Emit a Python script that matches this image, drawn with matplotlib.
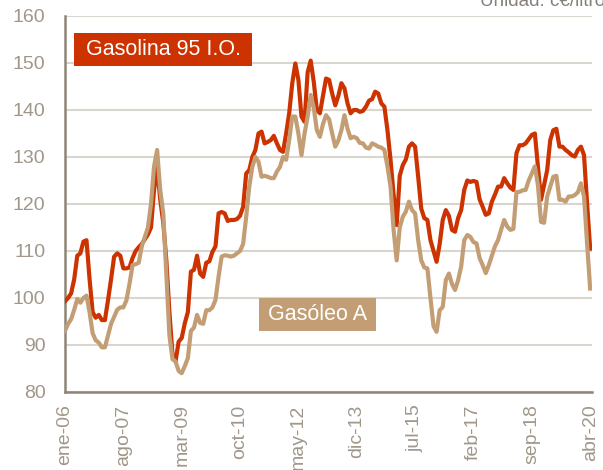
import matplotlib
matplotlib.use("Agg")
import matplotlib.pyplot as plt
from matplotlib.patches import Rectangle
import numpy as np

plt.rcParams['font.family'] = ['Liberation Sans', 'DejaVu Sans']

# Monthly prices (c€/litro), enero 2006 - abril 2020
gasolina = [
    99.3, 100.0, 101.0, 104.0, 109.0, 109.5, 112.0, 112.3, 104.0, 97.0, 95.8, 96.4,
    95.3, 95.3, 99.5, 104.0, 108.8, 109.5, 109.0, 106.3, 106.3, 106.5, 108.5, 110.0,
    110.8, 111.5, 112.5, 113.5, 115.0, 123.0, 128.0, 121.0, 116.0, 108.0, 97.0, 88.0,
    86.5, 90.7, 91.5, 94.6, 97.0, 105.6, 106.0, 109.0, 105.2, 104.5, 107.5, 107.8,
    109.8, 111.0, 118.0, 118.3, 118.0, 116.4, 116.6, 116.6, 116.8, 117.5, 119.4, 126.5,
    127.2, 130.0, 131.5, 135.0, 135.4, 132.9, 133.2, 133.6, 134.5, 132.9, 131.5, 131.1,
    135.0, 139.3, 145.7, 149.9, 146.4, 138.6, 137.5, 148.0, 150.5, 146.0, 140.0, 139.3,
    143.0, 146.7, 146.4, 143.5, 141.0, 143.0, 145.7, 144.6, 141.4, 139.3, 140.0, 140.0,
    139.6, 139.8, 140.7, 142.0, 142.3, 143.9, 143.5, 141.4, 140.7, 135.7, 129.4, 122.0,
    115.5, 126.0, 128.3, 129.5, 132.2, 132.9, 132.2, 125.8, 119.0, 117.0, 116.6, 112.3,
    110.0, 107.7, 111.5, 116.6, 118.7, 117.5, 114.5, 114.1, 117.0, 118.7, 123.0, 125.0,
    124.7, 124.9, 124.7, 121.0, 119.4, 117.7, 118.0, 120.5, 122.0, 123.7, 123.7, 125.5,
    124.4, 123.5, 123.0, 130.8, 132.5, 132.5, 132.9, 133.8, 134.7, 135.0, 127.9, 120.9,
    124.0, 127.2, 133.6, 135.7, 136.0, 132.2, 132.2, 131.5, 131.0, 130.4, 130.1, 131.5,
    132.2, 130.4, 120.1, 110.5,
]

gasoleo = [
    93.0, 94.5, 95.5, 97.5, 99.8, 99.0, 100.0, 100.5, 97.0, 92.5, 91.0, 90.5,
    89.5, 89.5, 92.0, 94.5, 96.0, 97.5, 98.0, 98.0, 99.5, 103.0, 107.0, 107.2,
    107.5, 111.0, 113.0, 115.0, 120.0, 128.0, 131.5, 123.0, 118.0, 105.0, 92.0, 87.0,
    86.5, 84.5, 84.0, 85.5, 87.2, 93.0, 93.7, 96.4, 94.7, 94.5, 97.4, 97.4,
    98.0, 99.6, 104.5, 108.8, 109.1, 109.0, 108.8, 109.0, 109.5, 110.0, 111.5, 117.3,
    123.7, 127.9, 130.0, 129.0, 125.8, 126.0, 125.8, 125.5, 125.5, 126.9, 127.9, 130.0,
    129.4, 133.6, 138.6, 138.6, 135.0, 130.4, 135.0, 138.6, 143.2, 140.5, 135.7, 134.3,
    137.0, 138.9, 138.0, 135.0, 132.2, 133.5, 135.7, 138.9, 136.0, 134.0, 134.3, 134.0,
    133.0, 132.9, 132.0, 131.8, 132.9, 132.6, 132.2, 132.0, 131.5, 128.0, 123.7, 114.5,
    108.0, 115.0, 117.3, 118.4, 120.5, 118.7, 118.0, 112.3, 108.0, 106.5, 106.3, 100.0,
    94.0, 92.8, 97.4, 98.1, 103.8, 105.2, 103.0, 101.7, 103.8, 106.7, 112.3, 113.4,
    113.0, 111.9, 111.6, 108.5, 107.0, 105.3, 107.0, 109.0, 111.0, 112.3, 114.5, 116.6,
    115.2, 114.5, 114.7, 122.5, 122.6, 122.9, 123.0, 125.0, 126.5, 128.0, 124.0, 116.2,
    116.0, 121.6, 123.7, 125.8, 126.0, 120.9, 120.9, 120.5, 121.6, 121.6, 121.9, 122.5,
    124.4, 121.6, 111.6, 102.0,
]

tick_labels = ["ene-06", "ago-07", "mar-09", "oct-10", "may-12",
               "dic-13", "jul-15", "feb-17", "sep-18", "abr-20"]
tick_step = 19

RED = "#CC3300"
TAN = "#C39E74"
GRID = "#DAD5CF"
SPINE = "#8E8577"
TXT = "#A0978A"

months = np.arange(len(gasolina))

fig = plt.figure(figsize=(6.03, 4.70), dpi=100)
ax = fig.add_axes([65 / 603, 1 - 392 / 470, 527 / 603, 376 / 470])

ax.plot(months, gasolina, color=RED, lw=3.0, solid_joinstyle="round", zorder=3)
ax.plot(months, gasoleo, color=TAN, lw=3.0, solid_joinstyle="round", zorder=4)

ax.set_ylim(80, 160)
ax.set_xlim(0, 171.6)
ax.set_yticks(np.arange(80, 161, 10))
ax.set_xticks(np.arange(len(tick_labels)) * tick_step)
ax.set_xticklabels(tick_labels, rotation=90)

ax.grid(axis="y", color=GRID, lw=1.5, zorder=0)
ax.set_axisbelow(True)
for s in ("top", "right"):
    ax.spines[s].set_visible(False)
for s in ("left", "bottom"):
    ax.spines[s].set_color(SPINE)
    ax.spines[s].set_linewidth(1.8)
ax.tick_params(axis="both", length=0, labelsize=14, labelcolor=TXT)
ax.tick_params(axis="y", pad=14)
ax.tick_params(axis="x", pad=9)

# Series labels as filled boxes
ax.add_patch(Rectangle((9 / 527, 1 - 50 / 376), 178 / 527, 33 / 376,
                       transform=ax.transAxes, facecolor=RED, edgecolor="none", zorder=5))
ax.text((163 - 65) / 527, 1 - 33.5 / 376, "Gasolina 95 I.O.", transform=ax.transAxes,
        ha="center", va="center", color="white", fontsize=15.5, zorder=6)

ax.add_patch(Rectangle(((259 - 65) / 527, 1 - 315 / 376), 117 / 527, 33 / 376,
                       transform=ax.transAxes, facecolor=TAN, edgecolor="none", zorder=5))
ax.text((317.5 - 65) / 527, 1 - 298.5 / 376, "Gasóleo A", transform=ax.transAxes,
        ha="center", va="center", color="white", fontsize=15.5, zorder=6)

fig.text(480 / 603, 1 - 6 / 470, "Unidad: c€/litro", ha="left", va="baseline",
         fontsize=13.5, color="#85807A")

fig.savefig("out.png", dpi=100)
